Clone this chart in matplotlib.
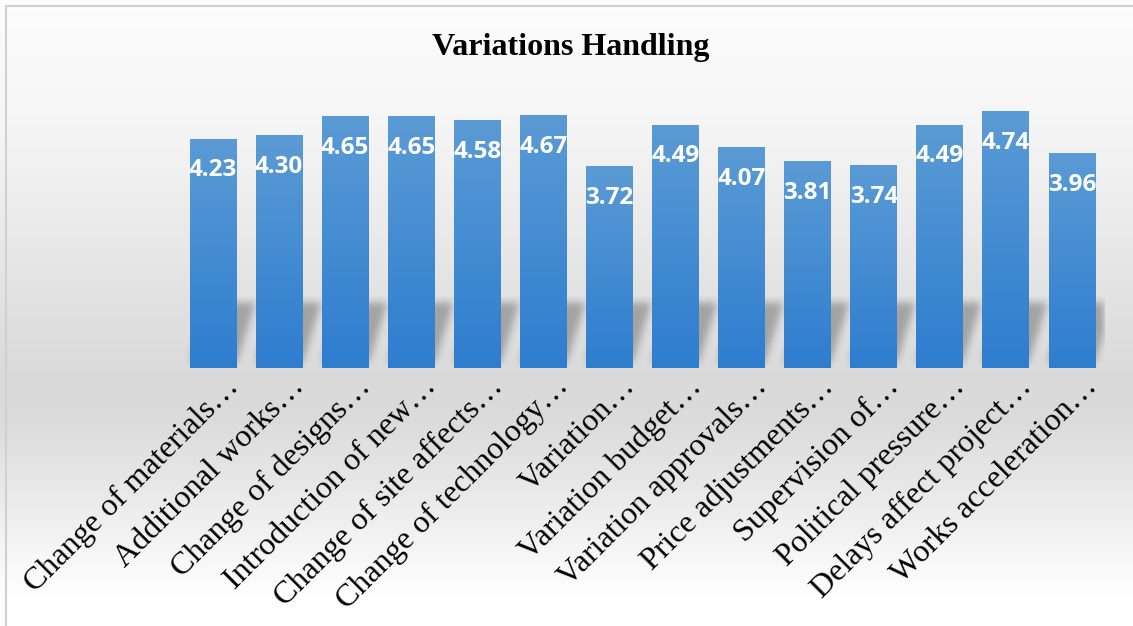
import numpy as np
import matplotlib
matplotlib.use("Agg")
import matplotlib.pyplot as plt
from matplotlib.patches import Rectangle

# data
categories = ["Change of materials…", "Additional works…", "Change of designs…",
              "Introduction of new…", "Change of site affects…", "Change of technology…",
              "Variation…", "Variation budget…", "Variation approvals…",
              "Price adjustments…", "Supervision of…", "Political pressure…",
              "Delays affect project…", "Works acceleration…"]
scores = [4.23, 4.30, 4.65, 4.65, 4.58, 4.67, 3.72, 4.49, 4.07, 3.81, 3.74, 4.49, 4.74, 3.96]

W, H = 1133, 626
BAR_W = 0.71
TOP = np.array([91, 155, 213]) / 255
BOTTOM = np.array([46, 125, 207]) / 255


def background(fig):
    bg = fig.add_axes([0, 0, 1, 1], zorder=-10)
    ys = np.array([0, 100, 180, 300, 380, 420, 500, 560, 600, 626]) / H
    vs = np.array([0.99, 0.97, 0.94, 0.885, 0.855, 0.86, 0.92, 0.97, 1.0, 1.0])
    col = np.interp(np.linspace(0, 1, 400), ys, vs)
    img = np.repeat(col[:, None], 3, axis=1)[:, None, :]
    bg.imshow(img, aspect="auto", extent=[0, 1, 0, 1], origin="upper")
    bg.add_patch(Rectangle((6 / W, -0.1), 1.2, 1 - 6 / H + 0.1, fill=False,
                           edgecolor="#d0d0d0", lw=1.5, transform=bg.transAxes))
    bg.set_xlim(0, 1)
    bg.set_ylim(0, 1)
    bg.axis("off")


def shadows(ax, n):
    # blurred skewed copies of the bar bottoms, drawn behind the bars
    nx, ny = 930, 100
    x = np.linspace(-0.5, n - 0.5, nx)
    y = np.linspace(0, 1.8, ny)
    X, Y = np.meshgrid(x, y)
    ylo, yhi, dx = 0.1, 1.2, 0.28
    t = (Y - ylo) / (yhi - ylo)
    mask = np.zeros_like(X)
    for i in range(n):
        x0 = i - BAR_W / 2 + dx * t
        x1 = i + BAR_W / 2 + dx * t
        inside = (Y >= ylo) & (Y <= yhi) & (X >= x0) & (X <= x1)
        mask[inside] = 1.0
    k = np.ones(9) / 9
    for _ in range(2):
        mask = np.apply_along_axis(lambda r: np.convolve(r, k, mode="same"), 1, mask)
        mask = np.apply_along_axis(lambda c: np.convolve(c, k, mode="same"), 0, mask)
    rgba = np.zeros((ny, nx, 4))
    rgba[..., :3] = 0.45
    rgba[..., 3] = mask * 0.55
    ax.imshow(rgba, extent=[-0.5, n - 0.5, 0, 1.8], origin="lower",
              aspect="auto", zorder=1, interpolation="bilinear")


fig = plt.figure(figsize=(W / 100, H / 100), dpi=100)
background(fig)

ax = fig.add_axes([180 / W, 1 - 368.3 / H, 925 / W, 270.5 / H])
ax.patch.set_alpha(0)
n = len(scores)
xs = np.arange(n)
shadows(ax, n)

grad = np.linspace(0, 1, 256)[:, None, None]
grad_img = BOTTOM + (TOP - BOTTOM) * grad
for xi, v in zip(xs, scores):
    ax.imshow(grad_img, extent=[xi - BAR_W / 2, xi + BAR_W / 2, 0, v],
              origin="lower", aspect="auto", zorder=2)
    ax.annotate(f"{v:.2f}", xy=(xi, v), xytext=(0, -31), textcoords="offset pixels",
                ha="center", va="center", color="white", fontsize=17.5,
                fontweight="bold", family="Open Sans", zorder=4)

for xi, lab in zip(xs, categories):
    ax.annotate(lab, xy=(xi, 0), xytext=(11, -4), textcoords="offset pixels",
                rotation=45, ha="right", va="top", rotation_mode="anchor",
                fontsize=23, family="Liberation Serif", color="black",
                annotation_clip=False)

ax.set_xlim(-0.5, n - 0.5)
ax.set_ylim(0, 5)
ax.axis("off")

fig.text(571 / W, 1 - 47 / H, "Variations Handling", ha="center", va="center",
         fontsize=23, fontweight="bold", family="Liberation Serif")

fig.savefig("out.png", dpi=100)
